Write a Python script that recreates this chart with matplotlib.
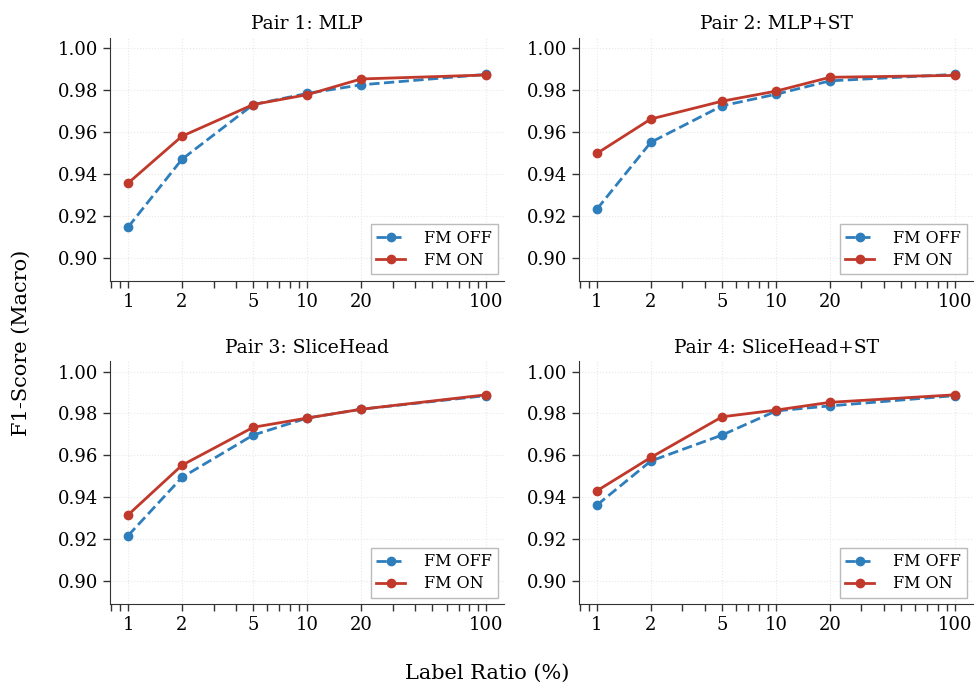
import numpy as np
import matplotlib.pyplot as plt
from matplotlib.ticker import FixedLocator, FixedFormatter, LogLocator, NullFormatter

plt.rcParams['font.family'] = ['DejaVu Serif']

ratios = [1, 2, 5, 10, 20, 100]
titles = ['Pair 1: MLP', 'Pair 2: MLP+ST', 'Pair 3: SliceHead', 'Pair 4: SliceHead+ST']

fm_off = [
    [0.9146, 0.9470, 0.9731, 0.9784, 0.9825, 0.9875],
    [0.9232, 0.9551, 0.9725, 0.9780, 0.9844, 0.9875],
    [0.9217, 0.9495, 0.9697, 0.9778, 0.9820, 0.9885],
    [0.9363, 0.9573, 0.9697, 0.9812, 0.9836, 0.9885],
]
fm_on = [
    [0.9356, 0.9580, 0.9731, 0.9778, 0.9853, 0.9872],
    [0.9498, 0.9662, 0.9747, 0.9795, 0.9861, 0.9870],
    [0.9316, 0.9553, 0.9734, 0.9778, 0.9820, 0.9889],
    [0.9431, 0.9590, 0.9784, 0.9816, 0.9853, 0.9889],
]

blue = '#2e7ebc'
red = '#c0392b'

fig, axes = plt.subplots(2, 2, figsize=(9.75, 6.85), dpi=100)
fig.subplots_adjust(left=0.113, right=0.998, top=0.945, bottom=0.118,
                    wspace=0.19, hspace=0.33)

for i, ax in enumerate(axes.flat):
    ax.plot(ratios, fm_off[i], '--o', color=blue, lw=2, ms=6, label='FM OFF')
    ax.plot(ratios, fm_on[i], '-o', color=red, lw=2, ms=6, label='FM ON')
    ax.set_xscale('log')
    ax.xaxis.set_major_locator(FixedLocator(ratios))
    ax.xaxis.set_major_formatter(FixedFormatter([str(r) for r in ratios]))
    ax.xaxis.set_minor_locator(LogLocator(base=10, subs=np.arange(1, 10)))
    ax.xaxis.set_minor_formatter(NullFormatter())
    ax.set_ylim(0.889, 1.005)
    ax.set_yticks([0.90, 0.92, 0.94, 0.96, 0.98, 1.00])
    ax.set_title(titles[i], fontsize=13.5)
    ax.tick_params(axis='both', which='major', labelsize=13, length=5, width=1, color='#333333')
    ax.tick_params(axis='x', which='minor', length=5, width=1, color='#333333')
    ax.grid(True, which='major', linestyle=':', color='#e8e8e8', lw=0.8)
    ax.spines['top'].set_visible(False)
    ax.spines['right'].set_visible(False)
    ax.spines['left'].set_color('#333333')
    ax.spines['bottom'].set_color('#333333')
    ax.legend(loc='lower right', fontsize=11.5, fancybox=False, edgecolor='#bbbbbb',
              framealpha=1, handlelength=1.8, handletextpad=1.2,
              borderpad=0.35, labelspacing=0.3, borderaxespad=0.4)

fig.supylabel('F1-Score (Macro)', fontsize=15, x=0.012)
fig.supxlabel('Label Ratio (%)', fontsize=15, y=0.003)

fig.savefig('out.png', dpi=100)
